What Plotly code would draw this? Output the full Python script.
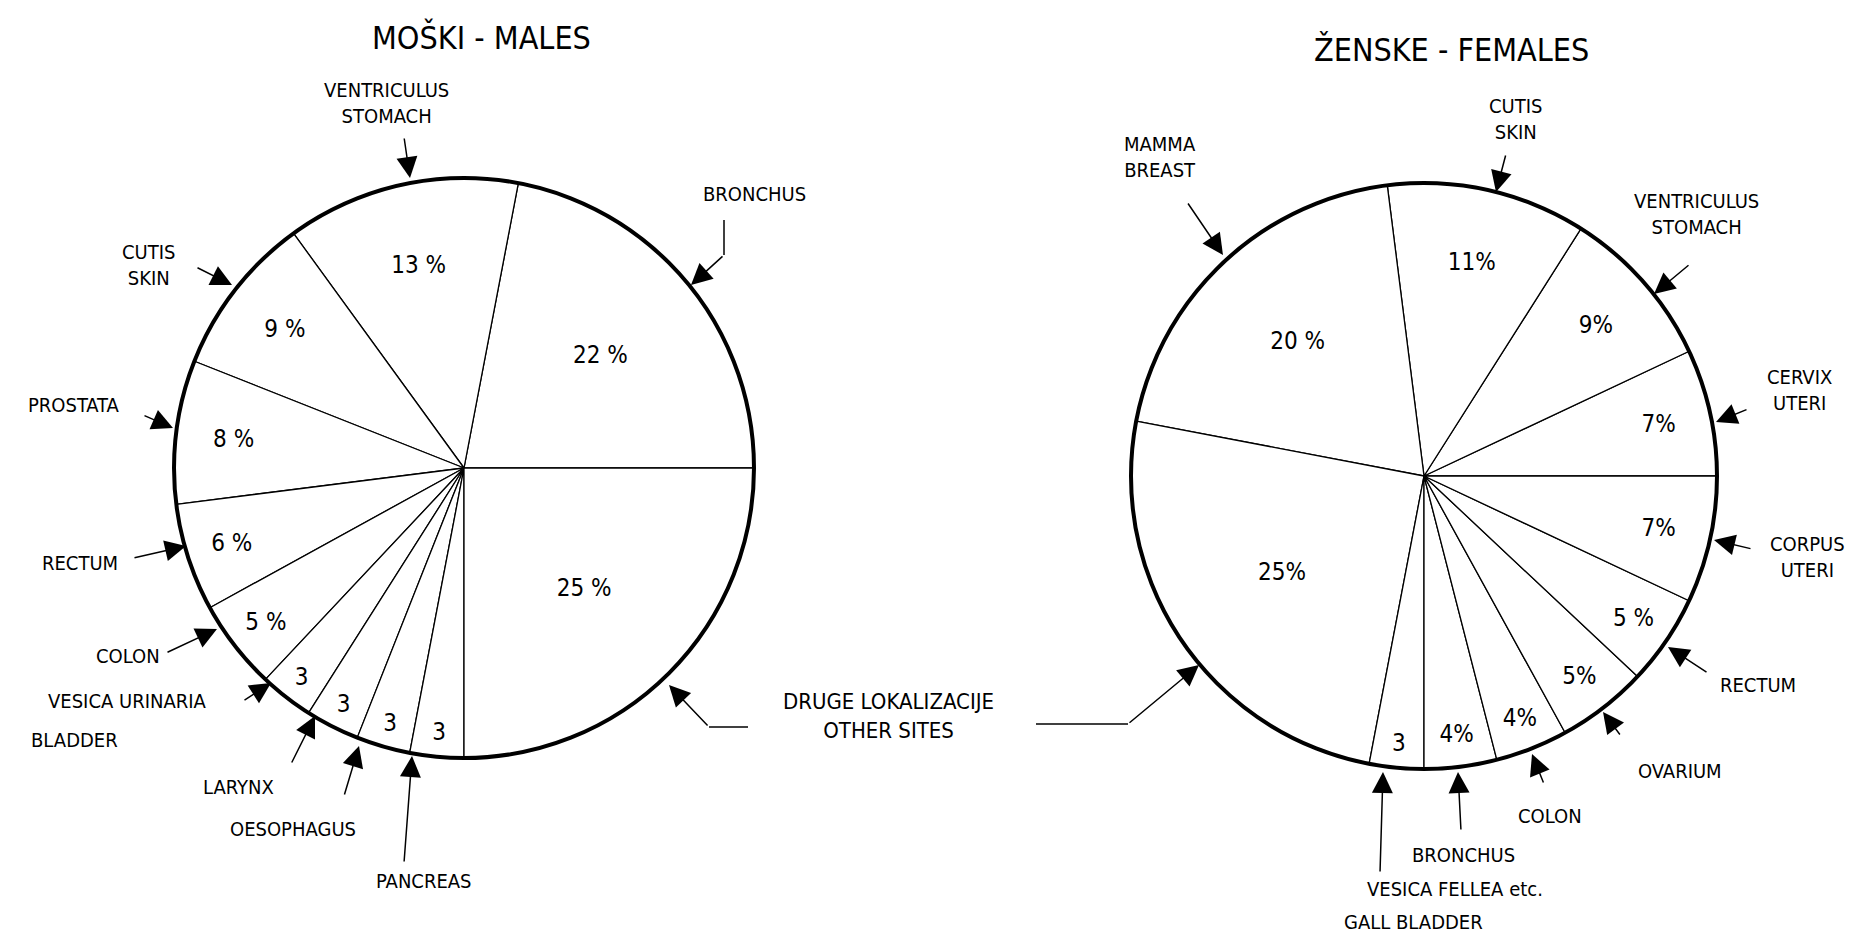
import plotly.graph_objects as go

W, H = 1862, 942          # browser window
OFF = 8                   # default body margin of the written html page
FW, FH = W - 2 * OFF, H - 2 * OFF
FONT = "DejaVu Sans Condensed, Liberation Sans Narrow, Roboto Condensed, DejaVu Sans, sans-serif"

# ---------------- data ----------------
male_sites = ["Bronchus", "Ventriculus / Stomach", "Cutis / Skin", "Prostata", "Rectum",
              "Colon", "Vesica urinaria / Bladder", "Larynx", "Oesophagus", "Pancreas",
              "Druge lokalizacije / Other sites"]
male_values = [22, 13, 9, 8, 6, 5, 3, 3, 3, 3, 25]
male_text = ["22 %", "13 %", "9 %", "8 %", "6 %", "5 %", "3", "3", "3", "3", "25 %"]

female_sites = ["Cervix uteri", "Ventriculus / Stomach", "Cutis / Skin", "Mamma / Breast",
                "Druge lokalizacije / Other sites", "Vesica fellea etc. / Gall bladder",
                "Bronchus", "Colon", "Ovarium", "Rectum", "Corpus uteri"]
female_values = [7, 9, 11, 20, 25, 3, 4, 4, 5, 5, 7]
female_text = ["7%", "9%", "11%", "20 %", "25%", "3", "4%", "4%", "5%", "5 %", "7%"]

# ---------------- layout helpers (window pixels -> paper) ----------------
def px(x):
    return (x - OFF) / FW

def py(y):
    return 1 - (y - OFF) / FH

def domain(cx, cy, r):
    return dict(x=[px(cx - r), px(cx + r)], y=[py(cy + r), py(cy - r)])

male_dom = domain(464, 468, 290)
female_dom = domain(1424, 476, 293)

fig = go.Figure()
for dom, sites, vals, txt in [(male_dom, male_sites, male_values, male_text),
                              (female_dom, female_sites, female_values, female_text)]:
    # first slice starts at 3 o'clock and runs counterclockwise;
    # plotly puts the END of the first slice at `rotation` in that mode
    rot = 90 - 360.0 * vals[0] / sum(vals)
    fig.add_trace(go.Pie(
        labels=sites, values=vals, text=txt, textinfo="text",
        textposition="inside", insidetextorientation="horizontal",
        textfont=dict(family=FONT, size=24, color="black"),
        sort=False, direction="counterclockwise", rotation=rot,
        marker=dict(colors=["white"] * len(vals), line=dict(color="black", width=1.3)),
        domain=dom, showlegend=False, hoverinfo="label+percent",
    ))
    # thick outer rim
    fig.add_trace(go.Pie(
        labels=["rim"], values=[1], textinfo="none", sort=False,
        marker=dict(colors=["rgba(0,0,0,0)"], line=dict(color="black", width=4)),
        domain=dom, showlegend=False, hoverinfo="skip",
    ))

annotations = []
shapes = []

def label(x, y, text, size=20):
    annotations.append(dict(x=px(x), y=py(y), xref="paper", yref="paper", text=text,
                            showarrow=False, font=dict(family=FONT, size=size, color="black"),
                            xanchor="center", yanchor="middle"))

def arrow(tx, ty, tipx, tipy):
    annotations.append(dict(x=px(tipx), y=py(tipy), xref="paper", yref="paper", text="",
                            showarrow=True, ax=tx - tipx, ay=ty - tipy,
                            arrowhead=2, arrowsize=2.8, arrowwidth=1.5, arrowcolor="black"))

def line(x0, y0, x1, y1):
    shapes.append(dict(type="line", xref="paper", yref="paper", x0=px(x0), y0=py(y0),
                       x1=px(x1), y1=py(y1), line=dict(color="black", width=1.5)))

# titles
label(481, 38, "MOŠKI - MALES", size=32)
label(1451, 50, "ŽENSKE - FEMALES", size=32)

# male labels
label(386, 103, "VENTRICULUS<br>STOMACH"); arrow(404, 137, 410, 178)
label(754, 194, "BRONCHUS"); line(724, 220, 724, 255); arrow(724, 255, 691, 285)
label(148, 265, "CUTIS<br>SKIN"); arrow(196, 267, 232, 285)
label(74, 405, "PROSTATA"); arrow(143, 415, 173, 428)
label(80, 563, "RECTUM"); arrow(133, 558, 186, 546)
label(128, 656, "COLON"); arrow(166, 653, 217, 629)
label(128, 701, "VESICA URINARIA"); label(74, 740, "BLADDER"); arrow(243, 701, 271, 683)
label(238, 787, "LARYNX"); arrow(291, 764, 315, 716)
label(293, 829, "OESOPHAGUS"); arrow(344, 796, 359, 746)
label(424, 881, "PANCREAS"); arrow(404, 863, 412, 756)

# other sites (shared)
label(888, 716, "DRUGE LOKALIZACIJE<br>OTHER SITES", size=22)
line(748, 727, 709, 727); arrow(709, 727, 669, 685)
line(1036, 724, 1128, 724); arrow(1128, 724, 1199, 665)

# female labels
label(1515, 119, "CUTIS<br>SKIN"); arrow(1506, 154, 1496, 192)
label(1160, 157, "MAMMA<br>BREAST"); arrow(1187, 202, 1223, 255)
label(1696, 214, "VENTRICULUS<br>STOMACH"); arrow(1690, 264, 1654, 294)
label(1799, 390, "CERVIX<br>UTERI"); arrow(1748, 409, 1716, 422)
label(1807, 557, "CORPUS<br>UTERI"); arrow(1752, 549, 1714, 540)
label(1758, 685, "RECTUM"); arrow(1708, 673, 1668, 647)
label(1680, 771, "OVARIUM"); arrow(1621, 736, 1603, 712)
label(1550, 816, "COLON"); arrow(1544, 784, 1532, 754)
label(1463, 855, "BRONCHUS"); arrow(1461, 831, 1458, 772)
label(1455, 889, "VESICA FELLEA etc."); label(1413, 922, "GALL BLADDER")
arrow(1380, 873, 1383, 772)

fig.update_layout(
    width=FW, height=FH, margin=dict(l=0, r=0, t=0, b=0),
    paper_bgcolor="white", plot_bgcolor="white",
    annotations=annotations, shapes=shapes,
    font=dict(family=FONT, color="black"),
)

fig.write_html("out.html")
